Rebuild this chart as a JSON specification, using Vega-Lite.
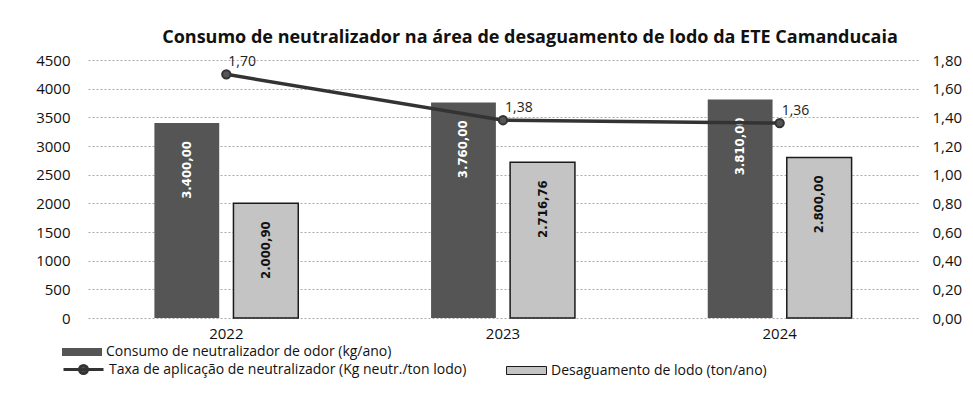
{
  "$schema": "https://vega.github.io/schema/vega-lite/v6.json",
  "width": 830,
  "height": 258,
  "autosize": {"type": "none"},
  "padding": {"left": 88, "top": 60, "right": 55, "bottom": 94},
  "background": "white",
  "config": {
    "locale": {"number": {"decimal": ",", "thousands": ".", "grouping": [3], "currency": ["R$", ""]}},
    "view": {"stroke": null},
    "font": "Open Sans",
    "legend": {"labelFont": "Open Sans", "labelFontSize": 14, "labelColor": "#111", "labelOffset": 4, "padding": 0, "labelLimit": 0}
  },
  "title": {
    "text": "Consumo de neutralizador na área de desaguamento de lodo da ETE Camanducaia",
    "font": "Open Sans",
    "fontSize": 18,
    "fontWeight": "bold",
    "color": "#111",
    "anchor": "middle",
    "dx": 27,
    "offset": 6
  },
  "datasets": {
    "barras": [
      {"ano": "2022", "serie": "Consumo de neutralizador de odor (kg/ano)", "valor": 3400.00},
      {"ano": "2022", "serie": "Desaguamento de lodo (ton/ano)", "valor": 2000.90},
      {"ano": "2023", "serie": "Consumo de neutralizador de odor (kg/ano)", "valor": 3760.00},
      {"ano": "2023", "serie": "Desaguamento de lodo (ton/ano)", "valor": 2716.76},
      {"ano": "2024", "serie": "Consumo de neutralizador de odor (kg/ano)", "valor": 3810.00},
      {"ano": "2024", "serie": "Desaguamento de lodo (ton/ano)", "valor": 2800.00}
    ],
    "taxa": [
      {"ano": "2022", "serie": "Taxa de aplicação de neutralizador (Kg neutr./ton lodo)", "taxa": 1.70},
      {"ano": "2023", "serie": "Taxa de aplicação de neutralizador (Kg neutr./ton lodo)", "taxa": 1.38},
      {"ano": "2024", "serie": "Taxa de aplicação de neutralizador (Kg neutr./ton lodo)", "taxa": 1.36}
    ]
  },
  "layer": [
    {
      "data": {"name": "barras"},
      "encoding": {
        "x": {
          "field": "ano", "type": "nominal",
          "scale": {"paddingInner": 0.48, "paddingOuter": 0.24},
          "axis": {"title": null, "labelAngle": 0, "domain": false, "ticks": false, "labelFontSize": 15, "labelColor": "#111", "labelPadding": 8, "labelFont": "Open Sans"}
        },
        "xOffset": {
          "field": "serie", "type": "nominal",
          "scale": {"domain": ["Consumo de neutralizador de odor (kg/ano)", "Desaguamento de lodo (ton/ano)"], "paddingInner": 0.18, "paddingOuter": 0}
        },
        "y": {
          "field": "valor", "type": "quantitative",
          "scale": {"domain": [0, 4500], "nice": false},
          "axis": {"orient": "left", "title": null, "values": [0, 500, 1000, 1500, 2000, 2500, 3000, 3500, 4000, 4500], "format": "d", "domain": false, "ticks": false, "grid": true, "gridDash": [2, 2], "gridColor": "#aaa", "labelFontSize": 15, "labelColor": "#111", "labelPadding": 18, "labelFont": "Open Sans"}
        }
      },
      "layer": [
        {
          "transform": [{"filter": "datum.serie === 'Consumo de neutralizador de odor (kg/ano)'"}],
          "mark": {"type": "bar"},
          "encoding": {
            "fill": {
              "field": "serie", "type": "nominal",
              "scale": {"domain": ["Consumo de neutralizador de odor (kg/ano)"], "range": ["#555555"]},
              "legend": {"title": null, "orient": "none", "legendX": -26, "legendY": 272, "symbolType": "M-1,-0.2H1V0.2H-1Z", "symbolSize": 1600, "symbolStrokeWidth": 0}
            }
          }
        },
        {
          "transform": [{"filter": "datum.serie === 'Desaguamento de lodo (ton/ano)'"}],
          "mark": {"type": "bar", "stroke": "#1a1a1a", "strokeWidth": 1.5},
          "encoding": {
            "fill": {
              "field": "serie", "type": "nominal",
              "scale": {"domain": ["Desaguamento de lodo (ton/ano)"], "range": ["#c4c4c4"]},
              "legend": {"title": null, "orient": "none", "legendX": 418, "legendY": 290, "symbolType": "M-1,-0.2H1V0.2H-1Z", "symbolSize": 1600, "symbolStrokeColor": "#1a1a1a", "symbolStrokeWidth": 1}
            }
          }
        },
        {
          "mark": {"type": "text", "angle": 270, "align": "right", "baseline": "middle", "dx": -18, "font": "DejaVu Sans Condensed", "fontWeight": "bold", "fontSize": 13},
          "encoding": {
            "text": {"field": "valor", "type": "quantitative", "format": ",.2f"},
            "fill": {"condition": {"test": "datum.serie === 'Consumo de neutralizador de odor (kg/ano)'", "value": "#ffffff"}, "value": "#111111"}
          }
        }
      ],
      "resolve": {"scale": {"fill": "independent"}}
    },
    {
      "data": {"name": "taxa"},
      "encoding": {
        "x": {"field": "ano", "type": "nominal"},
        "y": {
          "field": "taxa", "type": "quantitative",
          "scale": {"domain": [0, 1.8], "nice": false},
          "axis": {"orient": "right", "title": null, "values": [0, 0.2, 0.4, 0.6, 0.8, 1.0, 1.2, 1.4, 1.6, 1.8], "format": ".2f", "domain": false, "ticks": false, "grid": false, "labelFontSize": 15, "labelColor": "#111", "labelPadding": 14, "labelFont": "Open Sans"}
        }
      },
      "layer": [
        {
          "mark": {"type": "line", "strokeWidth": 3.5, "point": {"filled": true, "fill": "#555555", "size": 70}},
          "encoding": {
            "stroke": {
              "field": "serie", "type": "nominal",
              "scale": {"range": ["#333333"]},
              "legend": {"title": null, "orient": "none", "legendX": -26, "legendY": 288, "symbolType": "M-1,0H1M-0.2,0A0.2,0.2,0,1,1,0.2,0A0.2,0.2,0,1,1,-0.2,0", "symbolSize": 1600, "symbolStrokeWidth": 3, "symbolFillColor": "#555555"}
            }
          }
        },
        {
          "mark": {"type": "text", "align": "left", "baseline": "bottom", "dx": 2, "dy": -5, "fontSize": 14, "font": "Open Sans", "color": "#222"},
          "encoding": {
            "text": {"field": "taxa", "type": "quantitative", "format": ".2f"}
          }
        }
      ]
    }
  ],
  "resolve": {"scale": {"y": "independent", "fill": "independent"}}
}
